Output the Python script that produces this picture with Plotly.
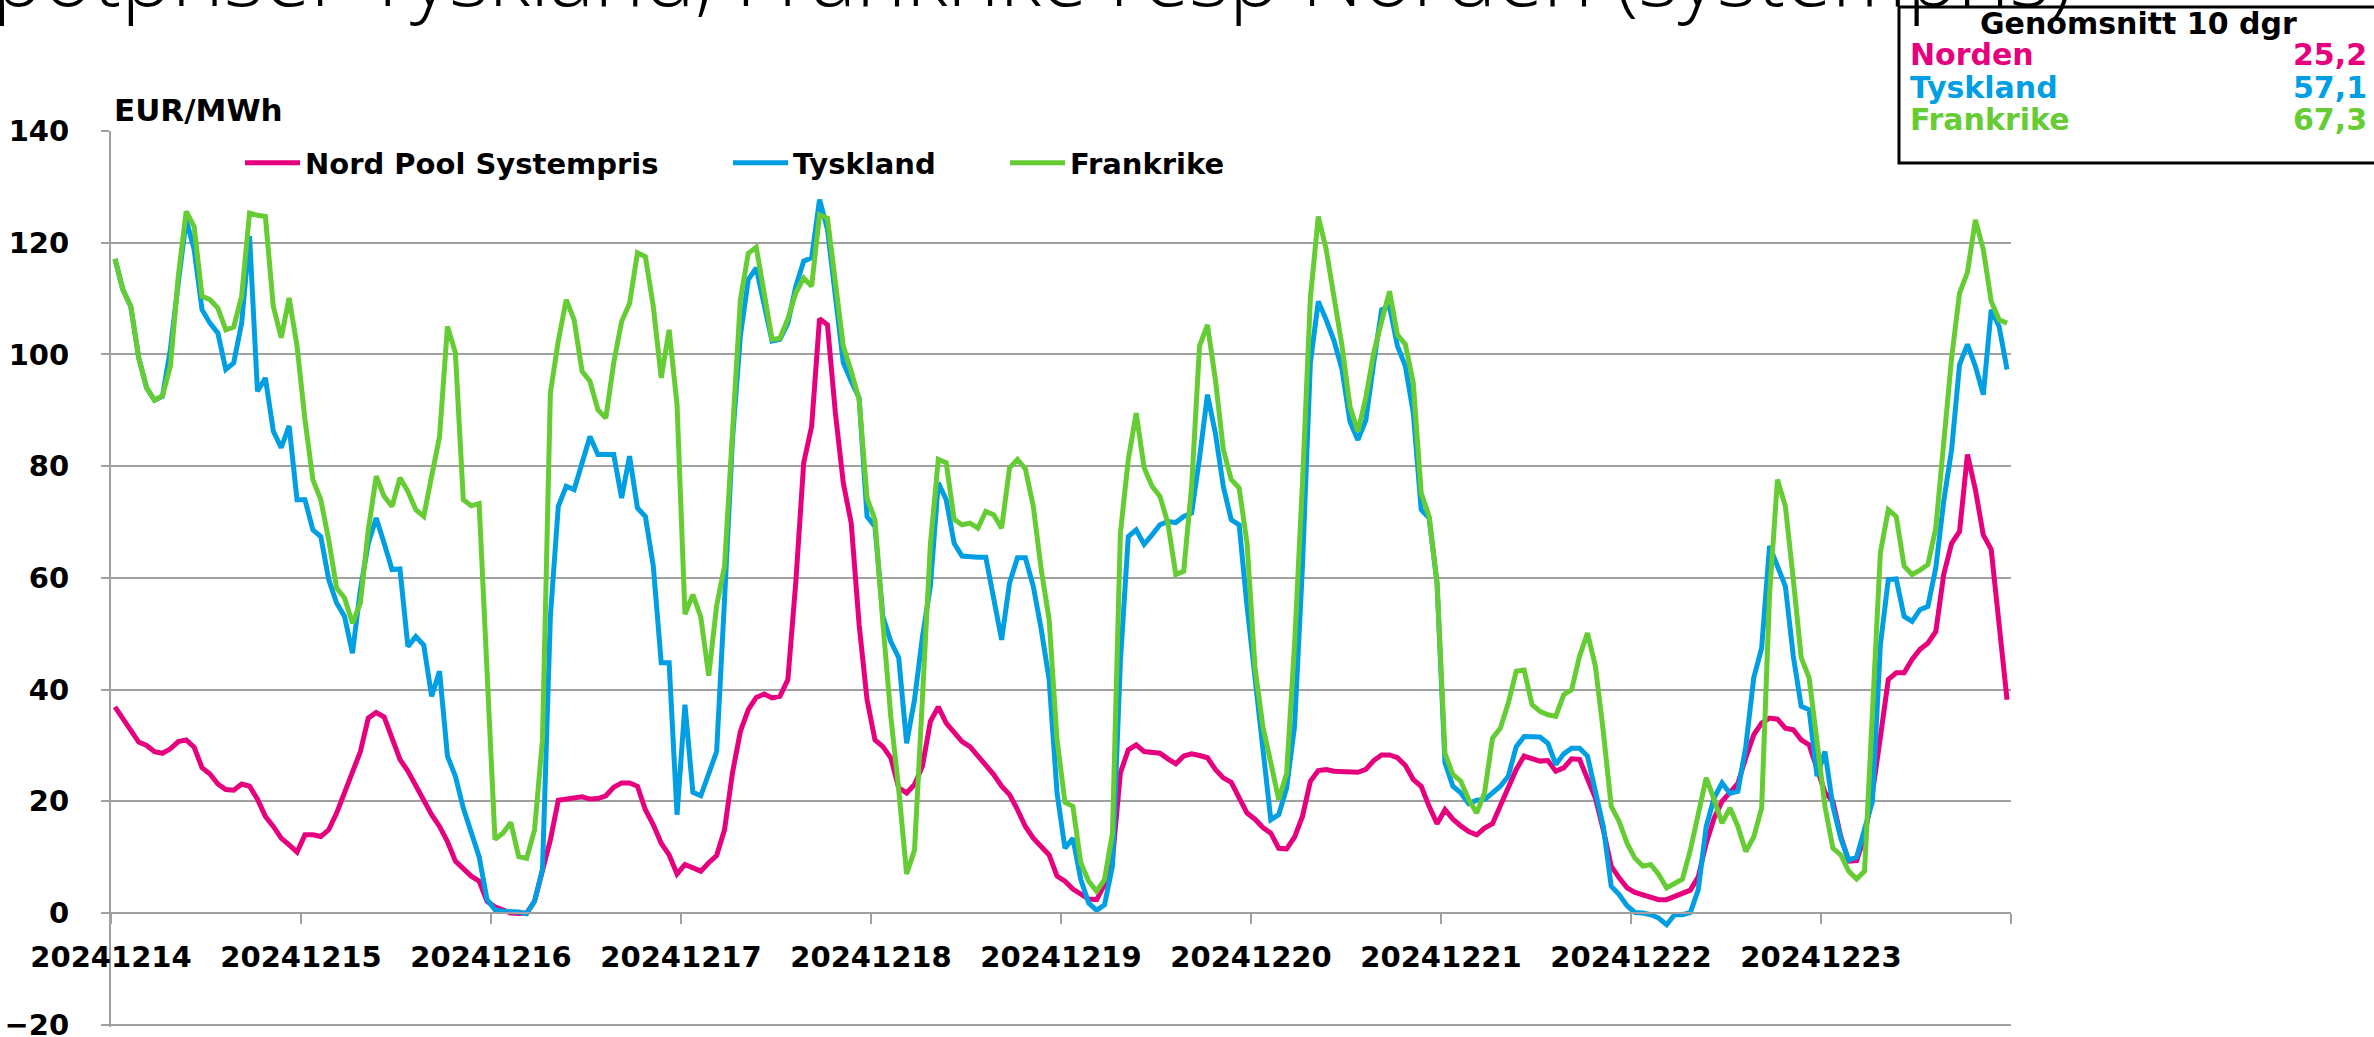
import plotly.graph_objects as go

# ---------------- data (hourly spot prices, EUR/MWh, 14-23 Dec 2024) ----------------
day_labels = ["20241214", "20241215", "20241216", "20241217", "20241218",
              "20241219", "20241220", "20241221", "20241222", "20241223"]

norden = [
    36.9, 34.9, 32.8, 30.6, 30.0, 28.9, 28.6, 29.4, 30.7, 31.0, 29.7, 26.0, 24.9, 23.1, 22.1, 22.0, 23.1, 22.7, 20.4, 17.3, 15.5, 13.4, 12.2, 10.9,
    14.0, 14.0, 13.7, 14.9, 17.9, 21.5, 25.1, 28.9, 34.9, 35.9, 35.1, 31.3, 27.5, 25.4, 22.7, 20.0, 17.6, 15.5, 12.8, 9.3, 7.8, 6.6, 5.7, 2.1,
    1.1, 0.6, 0.0, -0.1, 0.0, 2.1, 7.8, 13.1, 20.2, 20.4, 20.8, 20.8, 20.4, 20.5, 21.0, 22.5, 23.3, 23.3, 22.7, 18.5, 15.8, 12.5, 10.4, 7.0,
    8.7, 8.1, 7.5, 9.0, 10.3, 14.9, 25.1, 32.5, 36.4, 38.6, 39.2, 38.5, 38.8, 41.8, 59.2, 80.6, 87.1, 106.4, 105.3, 89.5, 77.0, 69.8, 51.6, 38.2,
    31.0, 29.8, 27.8, 22.4, 21.5, 23.0, 26.3, 34.3, 36.9, 34.0, 32.2, 30.7, 29.8, 28.2, 26.6, 24.8, 22.7, 21.2, 18.5, 15.5, 13.4, 11.9, 10.4, 6.6,
    5.7, 4.3, 3.5, 2.5, 2.4, 5.1, 9.5, 25.1, 29.2, 30.1, 28.9, 28.8, 28.6, 27.6, 26.7, 28.1, 28.5, 28.2, 27.8, 25.7, 24.2, 23.4, 20.4, 17.9,
    16.8, 15.3, 14.3, 11.6, 11.5, 13.6, 17.3, 23.6, 25.5, 25.7, 25.4, 25.4, 25.2, 25.2, 25.7, 27.3, 28.3, 28.3, 27.8, 26.4, 23.9, 22.7, 19.1, 16.0,
    18.5, 16.8, 15.6, 14.6, 14.0, 15.2, 16.0, 19.1, 22.7, 25.7, 28.1, 27.6, 27.2, 27.3, 25.4, 26.0, 27.6, 27.5, 24.2, 20.6, 14.9, 8.4, 6.3, 4.5,
    3.7, 3.3, 2.7, 2.4, 2.4, 3.0, 3.5, 4.1, 6.5, 12.5, 17.0, 20.0, 21.6, 23.2, 27.8, 31.9, 34.0, 34.9, 34.7, 33.1, 32.8, 31.0, 30.1, 25.7,
    21.6, 20.0, 13.7, 9.3, 9.4, 13.7, 21.5, 31.5, 41.8, 43.0, 43.0, 45.4, 47.2, 48.3, 50.4, 60.6, 66.2, 68.3, 82.1, 75.8, 67.7, 65.1, 52.0, 38.2,
]

tyskland = [
    117.1, 111.6, 108.6, 99.4, 94.0, 91.8, 92.5, 100.9, 112.8, 124.1, 118.8, 108.0, 105.6, 103.8, 97.3, 98.5, 105.6, 121.2, 93.4, 95.8, 86.3, 83.3, 87.2, 74.0,
    74.0, 68.6, 67.4, 59.7, 55.5, 53.1, 46.5, 57.9, 66.2, 70.7, 66.2, 61.5, 61.6, 47.7, 49.5, 48.0, 38.8, 43.3, 28.1, 24.5, 18.8, 14.3, 10.1, 2.4,
    0.6, 0.3, 0.3, 0.2, -0.1, 2.1, 7.8, 53.1, 72.8, 76.4, 75.8, 80.6, 85.3, 82.1, 82.1, 82.1, 74.3, 81.8, 72.5, 71.0, 62.1, 44.8, 44.8, 17.6,
    37.3, 21.6, 21.0, 24.8, 28.9, 56.1, 84.7, 103.3, 113.4, 115.5, 109.2, 102.4, 102.7, 105.6, 112.2, 116.7, 117.3, 127.7, 122.4, 110.4, 98.5, 95.2, 92.2, 71.0,
    69.2, 53.1, 48.6, 45.7, 30.4, 38.2, 49.5, 58.5, 77.0, 74.0, 66.2, 63.9, 63.7, 63.7, 63.7, 56.7, 48.9, 59.1, 63.6, 63.6, 58.5, 50.8, 41.8, 21.5,
    11.6, 13.4, 6.0, 1.8, 0.5, 1.5, 8.4, 45.0, 67.4, 68.6, 66.0, 67.7, 69.5, 70.1, 69.9, 71.0, 71.6, 81.5, 92.8, 85.9, 76.4, 70.4, 69.5, 54.9,
    41.8, 29.2, 16.7, 17.6, 22.4, 33.4, 62.1, 98.5, 109.5, 106.2, 102.4, 97.3, 88.0, 84.7, 88.2, 98.5, 108.0, 108.6, 101.5, 97.9, 89.5, 72.2, 70.7, 59.1,
    26.9, 22.7, 21.5, 19.6, 20.2, 20.3, 21.6, 22.7, 24.5, 29.8, 31.6, 31.6, 31.5, 30.4, 26.6, 28.5, 29.5, 29.5, 28.1, 21.8, 15.5, 4.8, 3.3, 1.3,
    0.1, 0.0, -0.3, -0.9, -2.1, -0.3, -0.3, 0.1, 4.2, 15.5, 20.6, 23.3, 21.4, 21.8, 29.8, 42.1, 47.4, 65.7, 62.1, 58.5, 46.0, 37.0, 36.4, 24.5,
    28.9, 19.1, 13.4, 9.5, 10.0, 14.9, 20.0, 48.0, 59.7, 59.8, 53.1, 52.2, 54.3, 54.9, 61.8, 73.7, 83.0, 98.2, 101.8, 97.9, 92.8, 108.0, 105.0, 97.3,
]

frankrike = [
    117.1, 111.6, 108.6, 99.4, 94.0, 91.8, 92.6, 97.9, 114.0, 125.6, 122.9, 110.4, 109.8, 108.3, 104.4, 104.9, 110.4, 125.3, 124.9, 124.7, 108.6, 103.0, 110.1, 101.5,
    88.3, 77.6, 74.0, 66.8, 58.2, 56.4, 51.9, 55.5, 68.6, 78.2, 74.6, 72.8, 77.9, 75.5, 72.2, 71.0, 78.2, 85.3, 105.0, 100.3, 74.0, 72.9, 73.3, 45.0,
    13.2, 14.3, 16.2, 10.1, 9.8, 14.9, 31.0, 93.1, 102.4, 109.8, 106.2, 97.0, 95.2, 90.1, 88.6, 98.5, 105.9, 109.1, 118.2, 117.5, 108.6, 95.8, 104.4, 91.0,
    53.5, 57.0, 53.0, 42.5, 55.0, 62.1, 84.9, 109.8, 118.1, 119.2, 111.0, 102.7, 102.9, 106.4, 111.0, 113.7, 112.2, 125.0, 124.4, 112.8, 101.5, 97.0, 91.9, 74.3,
    70.4, 51.9, 35.2, 22.1, 7.0, 11.3, 40.0, 66.0, 81.2, 80.6, 70.5, 69.5, 69.8, 68.9, 71.9, 71.3, 68.9, 79.7, 81.2, 79.5, 72.8, 61.5, 52.5, 31.0,
    19.8, 19.1, 9.0, 5.7, 3.9, 6.0, 14.3, 68.0, 81.2, 89.5, 79.7, 76.4, 74.6, 69.8, 60.6, 61.2, 76.4, 101.5, 105.3, 95.5, 83.0, 77.6, 76.1, 66.2,
    44.0, 33.4, 26.9, 20.3, 25.0, 48.0, 77.0, 110.1, 124.7, 118.8, 110.1, 101.5, 90.7, 86.2, 92.2, 100.3, 105.9, 111.3, 103.5, 101.8, 94.9, 75.2, 71.0, 59.1,
    28.6, 24.8, 23.6, 20.3, 17.9, 21.5, 31.3, 33.1, 37.6, 43.3, 43.5, 37.3, 36.1, 35.5, 35.2, 39.1, 40.0, 46.0, 50.1, 44.2, 32.5, 19.1, 16.4, 12.5,
    9.8, 8.4, 8.7, 6.9, 4.5, 5.4, 6.1, 11.3, 17.9, 24.2, 20.3, 16.1, 18.8, 15.5, 11.0, 13.6, 18.8, 57.0, 77.6, 72.8, 59.7, 45.7, 42.1, 31.0,
    19.1, 11.6, 10.4, 7.5, 6.1, 7.5, 35.0, 64.5, 72.2, 71.0, 62.1, 60.6, 61.4, 62.4, 68.9, 85.0, 99.4, 111.0, 114.7, 124.1, 118.8, 109.5, 106.2, 105.6,
]

series_names = ["Nord Pool Systempris", "Tyskland", "Frankrike"]
box_names = ["Norden", "Tyskland", "Frankrike"]
box_values = ["25,2", "57,1", "67,3"]
colors = ["#E6007E", "#009FE3", "#66CC33"]

hours = list(range(len(norden)))

# ---------------- layout geometry ----------------
W, H = 2374, 1037
YMIN, YMAX = -20.4, 140.0
PX_PER_UNIT = 894 / 160.0
L, R, T = 111, 2011, 131
B = round(1025 + (-20 - YMIN) * PX_PER_UNIT)   # bottom of plot area in pixels


def px_x(p):
    return (p - L) / (R - L)


def px_y(p):
    return (B - p) / (B - T)


GRID = "#A0A0A0"
TICKFONT = dict(family="DejaVu Sans", size=29, color="black", weight="bold")

fig = go.Figure()
legend_names = ["legend", "legend2", "legend3"]
for name, vals, col, lg in zip(series_names, [norden, tyskland, frankrike], colors, legend_names):
    fig.add_trace(go.Scatter(x=hours, y=vals, mode="lines", name=name,
                             line=dict(color=col, width=5), legend=lg))

legend_x = [240, 728, 1005]
leg_common = dict(orientation="h", yanchor="middle", y=px_y(163), xanchor="left",
                  bgcolor="rgba(0,0,0,0)", itemwidth=55,
                  font=dict(family="DejaVu Sans", size=29, color="black", weight="bold"))
fig.update_layout(
    legend=dict(x=px_x(legend_x[0]), **leg_common),
    legend2=dict(x=px_x(legend_x[1]), **leg_common),
    legend3=dict(x=px_x(legend_x[2]), **leg_common),
)

tickvals = [-0.5 + 24 * i for i in range(len(day_labels) + 1)]
ticktext = day_labels + [""]

fig.update_layout(
    width=W, height=H,
    margin=dict(l=L, r=W - R, t=T, b=H - B, pad=0, autoexpand=False),
    paper_bgcolor="white", plot_bgcolor="white",
    showlegend=True,
    xaxis=dict(range=[-0.5, len(hours) - 0.5], tickvals=tickvals, ticktext=ticktext,
               anchor="free", position=(0 - YMIN) / (YMAX - YMIN), automargin=False,
               showgrid=False, zeroline=False, showline=True, linecolor=GRID, linewidth=2,
               ticks="outside", ticklen=10, tickwidth=2, tickcolor=GRID,
               tickfont=TICKFONT, ticklabelstandoff=8),
    yaxis=dict(range=[YMIN, YMAX], tickvals=[-20, 0, 20, 40, 60, 80, 100, 120, 140],
               automargin=False,
               showgrid=True, gridcolor=GRID, gridwidth=2,
               zeroline=False, showline=True, linecolor=GRID, linewidth=2,
               ticks="outside", ticklen=8, tickwidth=2, tickcolor=GRID,
               tickfont=TICKFONT, ticklabelstandoff=26, ticklabeloverflow="allow"),
)

annotations = []
# chart title (mostly outside the top of the picture)
annotations.append(dict(text="Spotpriser Tyskland, Frankrike resp Norden (systempris)",
                        xref="paper", yref="paper", x=px_x(2075), y=px_y(33),
                        xanchor="right", yanchor="bottom", showarrow=False,
                        font=dict(family="Open Sans", size=85, color="black", weight=300)))
# unit label
annotations.append(dict(text="EUR/MWh", xref="paper", yref="paper", x=px_x(112), y=px_y(110),
                        xanchor="left", yanchor="middle", showarrow=False,
                        font=dict(family="DejaVu Sans", size=31, color="black", weight="bold")))
# average box
BOXFONT = dict(family="DejaVu Sans", size=30, weight="bold")
annotations.append(dict(text="Genomsnitt 10 dgr", xref="paper", yref="paper", x=px_x(2138), y=px_y(23),
                        xanchor="center", yanchor="middle", showarrow=False,
                        font=dict(color="black", **BOXFONT)))
for i, (nm, val, col) in enumerate(zip(box_names, box_values, colors)):
    yy = px_y(54 + 33 * i)
    annotations.append(dict(text=nm, xref="paper", yref="paper", x=px_x(1908), y=yy,
                            xanchor="left", yanchor="middle", showarrow=False,
                            font=dict(color=col, **BOXFONT)))
    annotations.append(dict(text=val, xref="paper", yref="paper", x=px_x(2369), y=yy,
                            xanchor="right", yanchor="middle", showarrow=False,
                            font=dict(color=col, **BOXFONT)))
fig.update_layout(annotations=annotations)

fig.add_shape(type="rect", xref="paper", yref="paper",
              x0=px_x(1899), x1=px_x(2400), y0=px_y(163), y1=px_y(7),
              line=dict(color="black", width=3), fillcolor="rgba(0,0,0,0)", layer="above")

fig.write_html("out.html", config={"displayModeBar": False},
               post_script="document.body.style.margin='0';")
